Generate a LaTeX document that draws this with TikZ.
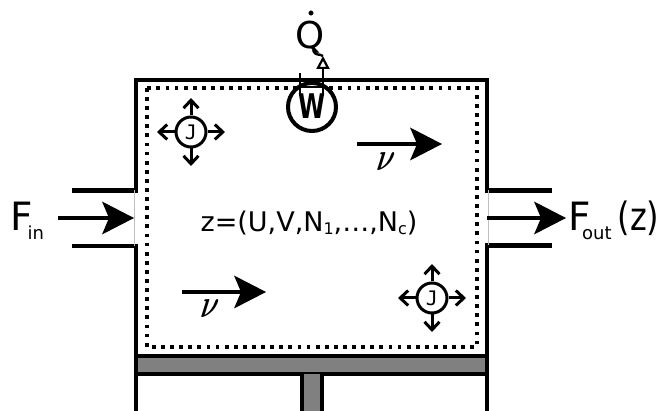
\documentclass[tikz,border=0pt]{standalone}
\usepackage{fontspec}
\setmainfont{DejaVu Sans}
\setmonofont{DejaVu Sans Mono}
\newcommand{\subtext}[1]{\raisebox{-9pt}{\fontsize{18}{18}\selectfont #1}}
\newcommand{\substate}[1]{\raisebox{-3pt}{\fontsize{16}{16}\selectfont #1}}
\usetikzlibrary{arrows.meta,positioning,calc}

\begin{document}
\begin{tikzpicture}[
  x=1pt, y=-1pt,
  wall/.style={line width=4.4pt, line cap=butt, line join=miter},
  gap/.style={line width=0.7pt, black!25},
  flow/.style={line width=4.2pt, -{Stealth[length=32pt, width=33pt, inset=7pt, line width=0pt, round]}},
  flux/.style={line width=3pt, -{Straight Barb[length=8pt, width=15pt, line width=3pt]}},
  jcircle/.style={draw, fill=white, circle, line width=3pt, minimum size=30pt, inner sep=0pt, font=\ttfamily\fontsize{20}{20}\selectfont},
  heater/.style={draw, fill=white, circle, line width=4pt, minimum size=48pt, inner sep=0pt},
  label/.style={inner sep=0pt, font=\fontsize{39}{40}\selectfont},
  velo/.style={inner sep=0pt, xslant=.15, font=\fontsize{24}{24}\selectfont}
]
\useasboundingbox (0,0) rectangle (659,411);

% control volume
\draw[line width=3.8pt, dash pattern=on 3.8pt off 5.3pt] (147,88) rectangle (477,347);

% vessel walls and pipes
\draw[wall] (136,411) -- (136,246) -- (72,246);
\draw[wall] (72,190.5) -- (136,190.5) -- (136,80) -- (487,80) -- (487,190.5) -- (552,190.5);
\draw[wall] (552,245.5) -- (487,245.5) -- (487,411);
\draw[gap] (134,190) -- (134,246);
\draw[gap] (488,190) -- (488,245);

% piston
\draw[wall, fill=black!50] (136,356) rectangle (487,374);
\draw[wall, fill=black!50] (302,374) -- (302,413) -- (322,413) -- (322,374);

% labels
\node[label, anchor=base west] (fin) at (10,231) {F\kern-5pt\subtext{in}};
\node[label, anchor=base west] (fout) at (568,231)
  {F\kern-8.5pt\subtext{out}\kern6pt\scalebox{.82}[1]{(z)}};
\node[inner sep=0pt, anchor=base, font=\fontsize{27}{27}\selectfont] (state) at (309,232)
  {z=(U,V,N\substate{1},…,N\substate{c})};

% flow arrows
\coordinate (inA) at (58,218);
\coordinate (inB) at (134,218);
\coordinate (outA) at (487,218);
\coordinate (outB) at (566,218);
\coordinate (vtopA) at (357,144);
\coordinate (vtopB) at (442,144);
\coordinate (vbotA) at (182,292);
\coordinate (vbotB) at (266,292);
\draw[flow] (inA) -- (inB);
\draw[flow] (outA) -- (outB);
\draw[flow] (vtopA) -- (vtopB);
\draw[flow] (vbotA) -- (vbotB);
\node[velo] (vtop) at (386,162) {\scalebox{1.05}[1.6]{\boldmath$\nu$}};
\node[velo] (vbot) at (210,309) {\scalebox{1.05}[1.6]{\boldmath$\nu$}};

% diffusion fluxes
\node[jcircle] (jone) at (191,132) {J};
\node[jcircle] (jtwo) at (432,298) {J};
\foreach \n in {jone,jtwo} {
  \coordinate (\n n) at ($(\n.center)+(0,-34)$);
  \coordinate (\n s) at ($(\n.center)+(0,34)$);
  \coordinate (\n e) at ($(\n.center)+(34,0)$);
  \coordinate (\n w) at ($(\n.center)+(-34,0)$);
  \draw[flux] (\n.north) -- (\n n);
  \draw[flux] (\n.south) -- (\n s);
  \draw[flux] (\n.east) -- (\n e);
  \draw[flux] (\n.west) -- (\n w);
}

% heat exchanger
\node[heater] (heat) at (312,107) {};
\draw[line width=2.8pt] (300,73) -- (300,96);
\node[inner sep=0pt, font=\bfseries\fontsize{34}{34}\selectfont, xscale=.72] (wsym) at (312,106) {W};
\draw[line width=2pt] (300,87) -- (323,87);
\coordinate (qtip) at (323,56);
\coordinate (qbase) at (323,96);
\draw[line width=2.8pt, -{Stealth[length=13pt, width=13pt, inset=0pt, open, fill=white, line width=2.2pt]}] (qbase) -- (qtip);
\node[inner sep=0pt, anchor=base, font=\fontsize{37}{37}\selectfont] (qdot) at (310.5,49) {Q};
\node[draw, fill, circle, inner sep=0pt, minimum size=4.5pt] (qmark) at (311,13) {};
\draw[line width=2.4pt] (313,50) .. controls (316,57) and (319,53) .. (qtip);
\end{tikzpicture}
\end{document}
